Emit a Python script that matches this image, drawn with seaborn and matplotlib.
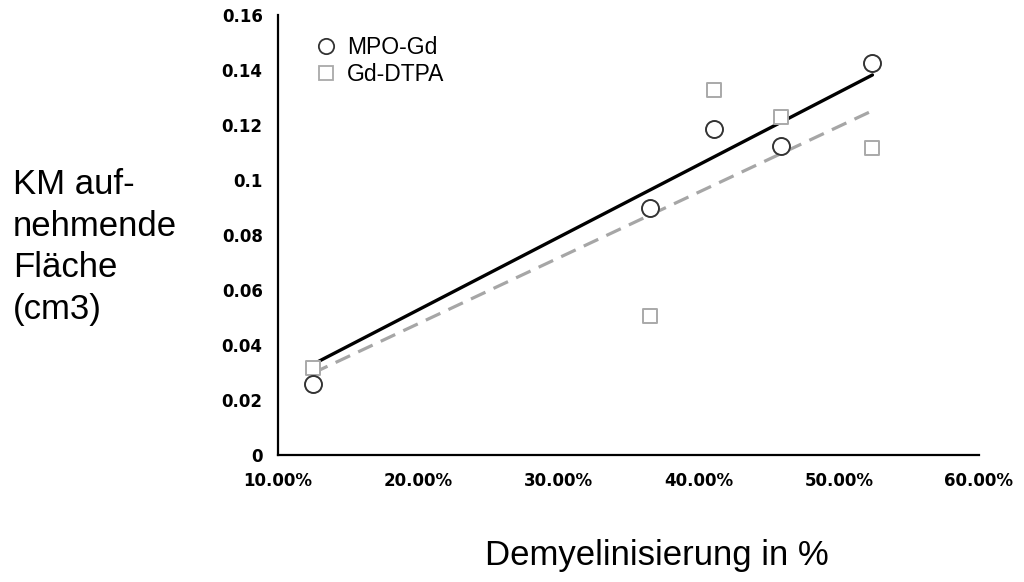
import numpy as np
import pandas as pd
import matplotlib
matplotlib.use("Agg")
import matplotlib.pyplot as plt
from matplotlib.ticker import FuncFormatter
from matplotlib.lines import Line2D
import seaborn as sns

# ---- data ----
demyelination = [12.5, 36.5, 41.1, 45.9, 52.4]          # % demyelination
mpo_gd = [0.0257, 0.0899, 0.1185, 0.1124, 0.1427]       # cm3
gd_dtpa = [0.0316, 0.0505, 0.1327, 0.1230, 0.1117]      # cm3
trend_x = [12.5, 52.4]
mpo_trend = [0.033, 0.1382]
dtpa_trend = [0.0298, 0.1252]
series_names = ["MPO-Gd", "Gd-DTPA"]
y_ticks = [0, 0.02, 0.04, 0.06, 0.08, 0.1, 0.12, 0.14, 0.16]
x_ticks = [10, 20, 30, 40, 50, 60]

sns.set_theme(style="white")
plt.rcParams["font.family"] = ["Liberation Sans", "DejaVu Sans"]
plt.rcParams["text.color"] = "black"

fig = plt.figure(figsize=(10.24, 5.82), dpi=100)
ax = fig.add_axes([278/1024, (582-455)/582, (979-278)/1024, (455-15)/582])

df = pd.DataFrame({"x": demyelination, "mpo": mpo_gd, "dtpa": gd_dtpa})
tr = pd.DataFrame({"x": trend_x, "mpo": mpo_trend, "dtpa": dtpa_trend})

sns.lineplot(data=tr, x="x", y="dtpa", ax=ax, color="#a6a6a6", lw=2.3,
             linestyle=(0, (5, 2.8)), zorder=2)
sns.lineplot(data=tr, x="x", y="mpo", ax=ax, color="black", lw=2.4, zorder=3)
sns.scatterplot(data=df, x="x", y="dtpa", ax=ax, marker="s", s=110,
                facecolor="white", edgecolor="#a9a9a9", linewidth=1.4, zorder=4)
sns.scatterplot(data=df, x="x", y="mpo", ax=ax, marker="o", s=150,
                facecolor="white", edgecolor="#333333", linewidth=1.4, zorder=5)

ax.set_xlim(10, 60)
ax.set_ylim(0, 0.16)
ax.set_xticks(x_ticks)
ax.set_yticks(y_ticks)
ax.xaxis.set_major_formatter(FuncFormatter(lambda v, p: f"{v:.2f}%"))
ax.yaxis.set_major_formatter(FuncFormatter(lambda v, p: f"{v:g}"))
ax.set_xlabel("")
ax.set_ylabel("")
for lab in ax.get_xticklabels() + ax.get_yticklabels():
    lab.set_fontfamily("DejaVu Sans")
    lab.set_fontweight("bold")
    lab.set_fontsize(12)
    lab.set_color("black")
ax.tick_params(axis="both", direction="out", length=5, width=1.5, color="black")
ax.tick_params(axis="x", pad=7)
ax.tick_params(axis="y", pad=6)
for s in ["top", "right"]:
    ax.spines[s].set_visible(False)
for s in ["left", "bottom"]:
    ax.spines[s].set_color("black")
    ax.spines[s].set_linewidth(1.6)

handles = [
    Line2D([], [], marker="o", ls="none", markersize=11, markerfacecolor="white",
           markeredgecolor="#333333", markeredgewidth=1.3),
    Line2D([], [], marker="s", ls="none", markersize=10, markerfacecolor="white",
           markeredgecolor="#a9a9a9", markeredgewidth=1.3),
]
leg = ax.legend(handles, series_names, loc="upper left", frameon=False,
                bbox_to_anchor=(301/1024, 1 - 25/582), bbox_transform=fig.transFigure,
                prop={"family": "Liberation Sans", "size": 16.5},
                handletextpad=0.3, labelspacing=0.14, handlelength=1.2, borderpad=0)
for t in leg.get_texts():
    t.set_color("black")

fig.text(13/1024, 1 - 247/582, "KM auf-\nnehmende\nFläche\n(cm3)", ha="left", va="center",
         fontsize=25, linespacing=1.33, family="Liberation Sans", color="black")
fig.text(657/1024, 1 - 556/582, "Demyelinisierung in %", ha="center", va="center",
         fontsize=25, family="Liberation Sans", color="black")

fig.savefig("out.png", dpi=100)
